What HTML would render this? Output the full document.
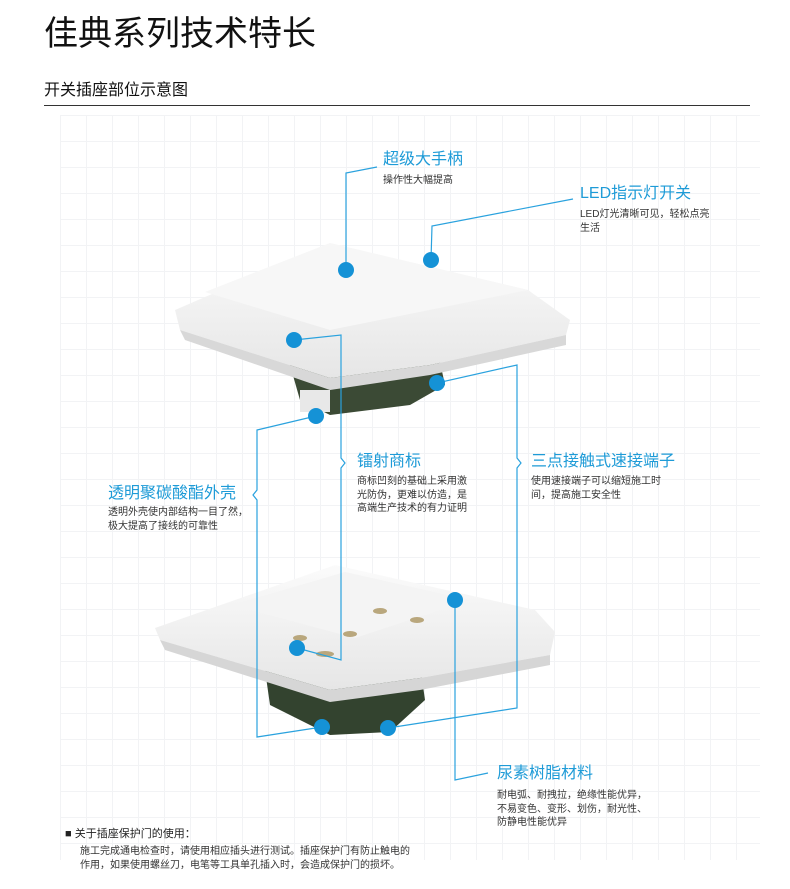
<!DOCTYPE html>
<html><head><meta charset="utf-8"><style>
body{margin:0;width:790px;height:889px;background:#fff;position:relative;overflow:hidden;font-family:"Liberation Sans","Noto Sans CJK SC",sans-serif;color:#222}
.grid{position:absolute;left:60px;top:115px;width:700px;height:745px;background-image:linear-gradient(#f2f3f5 1px,transparent 1px),linear-gradient(90deg,#f2f3f5 1px,transparent 1px);background-size:26px 26px}
.t{position:absolute;white-space:nowrap}
.h{color:#1e9bd7;font-size:16px;line-height:18px}
.s{font-size:10px;line-height:13.5px;color:#333}
svg{position:absolute;left:0;top:0}
</style></head><body>
<div class="grid"></div>
<div class="t" style="left:44px;top:14px;font-size:34px;line-height:40px;color:#111">佳典系列技术特长</div>
<div class="t" style="left:44px;top:81px;font-size:16px;line-height:20px;color:#111">开关插座部位示意图</div>
<div style="position:absolute;left:44px;top:105px;width:706px;height:1px;background:#333"></div>
<svg width="790" height="889">
<defs><linearGradient id="g" x1="0" y1="0" x2="0" y2="1"><stop offset="0" stop-color="#fbfbfb"/><stop offset="1" stop-color="#e6e6e6"/></linearGradient></defs>
<path d="M290 365 L440 362 L445 385 L410 405 L330 415 L300 400 Z" fill="#3b4a35"/>
<rect x="300" y="390" width="30" height="22" fill="#e8e8e8"/>
<path d="M175 310 L330 243 L528 290 L570 320 L566 335 L430 365 L330 378 L180 330 Z" fill="url(#g)"/>
<path d="M180 330 L330 378 L430 365 L566 335 L566 345 L430 375 L330 390 L185 340 Z" fill="#d8d8d8"/>
<path d="M205 292 L330 243 L528 290 L330 330 Z" fill="#f7f7f7"/>
<path d="M265 670 L420 665 L425 700 L390 732 L330 735 L270 705 Z" fill="#33432f"/>
<path d="M155 628 L335 565 L535 610 L555 632 L550 655 L420 678 L330 690 L160 640 Z" fill="url(#g)"/>
<path d="M160 640 L330 690 L420 678 L550 655 L550 665 L420 690 L330 702 L165 650 Z" fill="#d6d6d6"/>
<path d="M232 605 L345 572 L470 600 L355 638 Z" fill="#f4f4f4"/>
<g fill="#b9a77d"><ellipse cx="300" cy="638" rx="7" ry="3"/><ellipse cx="350" cy="634" rx="7" ry="3"/><ellipse cx="380" cy="611" rx="7" ry="3"/><ellipse cx="417" cy="620" rx="7" ry="3"/><ellipse cx="325" cy="654" rx="9" ry="3"/></g>
<g stroke="#2aa2de" stroke-width="1.2" fill="none">
<polyline points="377,167 346,173 346,270"/>
<polyline points="573,199 432,226 431,260"/>
<polyline points="294,340 341,335 341,458 345,463 341,468 341,660 297,648"/>
<polyline points="316,416 257,430 257,490 253,495 257,500 257,737 322,727"/>
<polyline points="437,383 517,365 517,458 521,463 517,468 517,708 388,728"/>
<polyline points="455,600 455,780 488,773"/>
</g>
<g fill="#1592d6">
<circle cx="346" cy="270" r="8"/><circle cx="431" cy="260" r="8"/><circle cx="294" cy="340" r="8"/><circle cx="316" cy="416" r="8"/><circle cx="437" cy="383" r="8"/>
<circle cx="297" cy="648" r="8"/><circle cx="455" cy="600" r="8"/><circle cx="322" cy="727" r="8"/><circle cx="388" cy="728" r="8"/>
</g>
</svg>
<div class="t h" style="left:383px;top:151px">超级大手柄</div>
<div class="t s" style="left:383px;top:174px">操作性大幅提高</div>
<div class="t h" style="left:580px;top:185px">LED指示灯开关</div>
<div class="t s" style="left:580px;top:208px">LED灯光清晰可见，轻松点亮<br>生活</div>
<div class="t h" style="left:108px;top:485px">透明聚碳酸酯外壳</div>
<div class="t s" style="left:108px;top:506px">透明外壳使内部结构一目了然，<br>极大提高了接线的可靠性</div>
<div class="t h" style="left:357px;top:453px">镭射商标</div>
<div class="t s" style="left:357px;top:475px">商标凹刻的基础上采用激<br>光防伪，更难以仿造，是<br>高端生产技术的有力证明</div>
<div class="t h" style="left:531px;top:453px">三点接触式速接端子</div>
<div class="t s" style="left:531px;top:475px">使用速接端子可以缩短施工时<br>间，提高施工安全性</div>
<div class="t h" style="left:497px;top:765px">尿素树脂材料</div>
<div class="t s" style="left:497px;top:789px">耐电弧、耐拽拉，绝缘性能优异，<br>不易变色、变形、划伤，耐光性、<br>防静电性能优异</div>
<div class="t" style="left:65px;top:827px;font-size:11px;line-height:14px">■ 关于插座保护门的使用：</div>
<div class="t s" style="left:80px;top:845px">施工完成通电检查时，请使用相应插头进行测试。插座保护门有防止触电的<br>作用，如果使用螺丝刀，电笔等工具单孔插入时，会造成保护门的损坏。</div>
</body></html>
